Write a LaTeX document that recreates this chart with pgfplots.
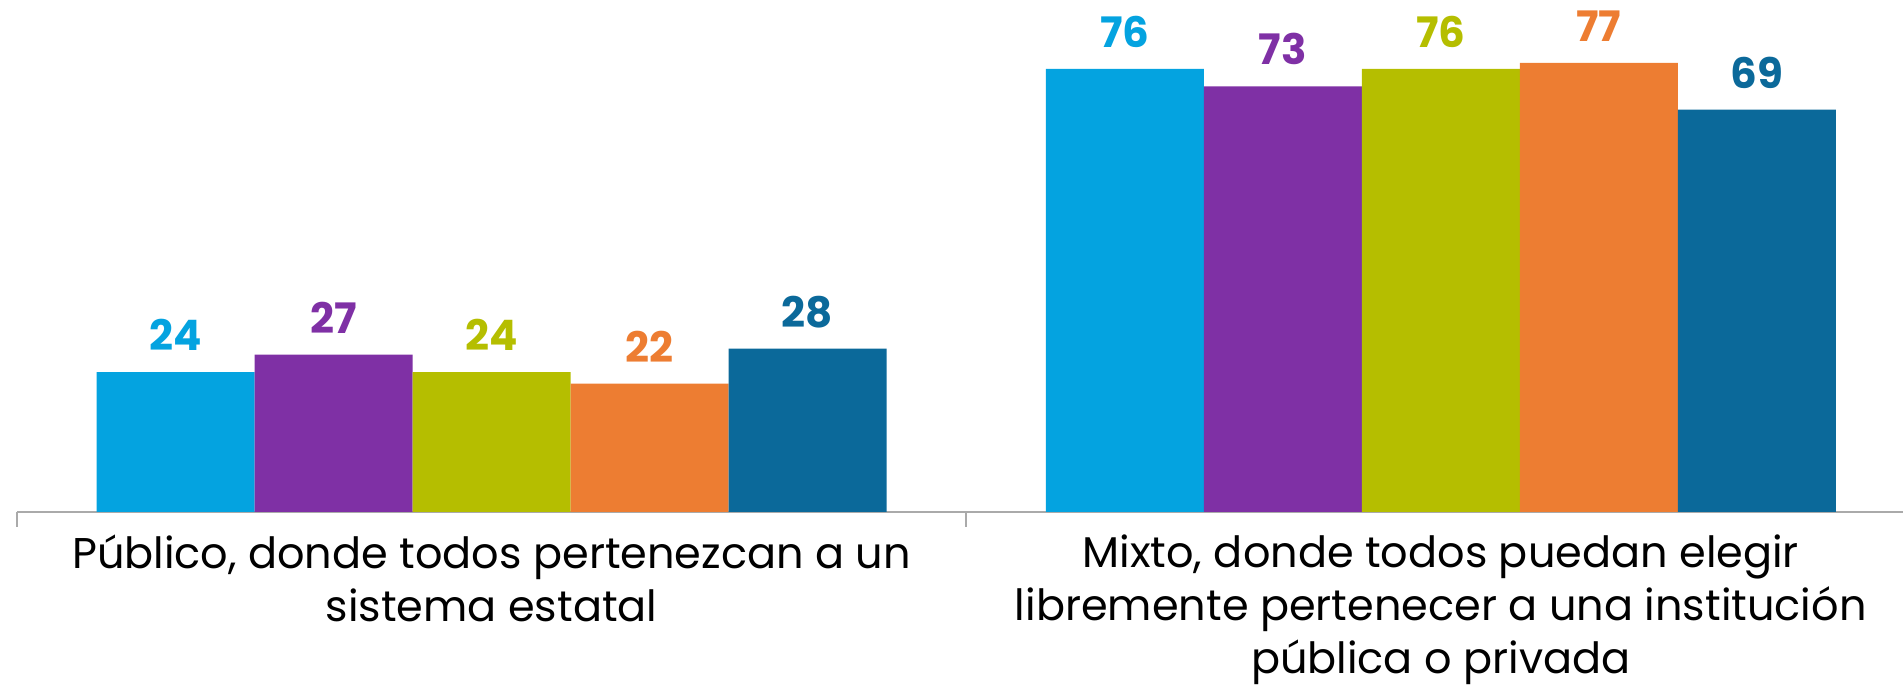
\documentclass[border=0pt]{standalone}
\usepackage{fontspec}
\setmainfont{Poppins}
\usepackage{pgfplots}
\pgfplotsset{compat=1.18}

\definecolor{cA}{RGB}{4,163,224}
\definecolor{cB}{RGB}{127,48,165}
\definecolor{cC}{RGB}{181,190,0}
\definecolor{cD}{RGB}{237,125,50}
\definecolor{cE}{RGB}{11,105,154}
\definecolor{axisgray}{RGB}{170,170,170}

\begin{document}
\begin{tikzpicture}
\begin{axis}[
  scale only axis,
  width=943pt, height=256pt,
  xmin=-0.5, xmax=1.487,
  ymin=0, ymax=87.8,
  axis x line*=bottom,
  axis y line=none,
  axis line style={axisgray, line width=0.8pt},
  ytick=\empty,
  xtick={0,1},
  xticklabels={{Público, donde todos pertenezcan a un\\sistema estatal},
               {Mixto, donde todos puedan elegir\\libremente pertenecer a una institución\\pública o privada}},
  major tick length=0pt,
  minor xtick={-0.5,0.5,1.5},
  minor tick length=7.5pt,
  tick align=outside,
  minor tick style={axisgray, line width=0.8pt},
  x tick label style={font=\fontsize{21.5}{26.5}\selectfont, align=center, text=black, yshift=-8pt},
  ybar=0pt, bar width=79pt,
  nodes near coords,
  /pgf/number format/assume math mode=true,
  every node near coord/.append style={font=\bfseries\fontsize{21}{21}\selectfont, yshift=7pt},
  clip=false,
]
\addplot[fill=cA, draw=none, every node near coord/.append style={text=cA}] coordinates {(0,24) (1,76)};
\addplot[fill=cB, draw=none, every node near coord/.append style={text=cB}] coordinates {(0,27) (1,73)};
\addplot[fill=cC, draw=none, every node near coord/.append style={text=cC}] coordinates {(0,24) (1,76)};
\addplot[fill=cD, draw=none, every node near coord/.append style={text=cD}] coordinates {(0,22) (1,77)};
\addplot[fill=cE, draw=none, every node near coord/.append style={text=cE}] coordinates {(0,28) (1,69)};
\end{axis}
\pgfresetboundingbox
\path ([xshift=-8.5pt,yshift=-92pt]current axis.south west) rectangle (current axis.north east);
\end{tikzpicture}
\end{document}
